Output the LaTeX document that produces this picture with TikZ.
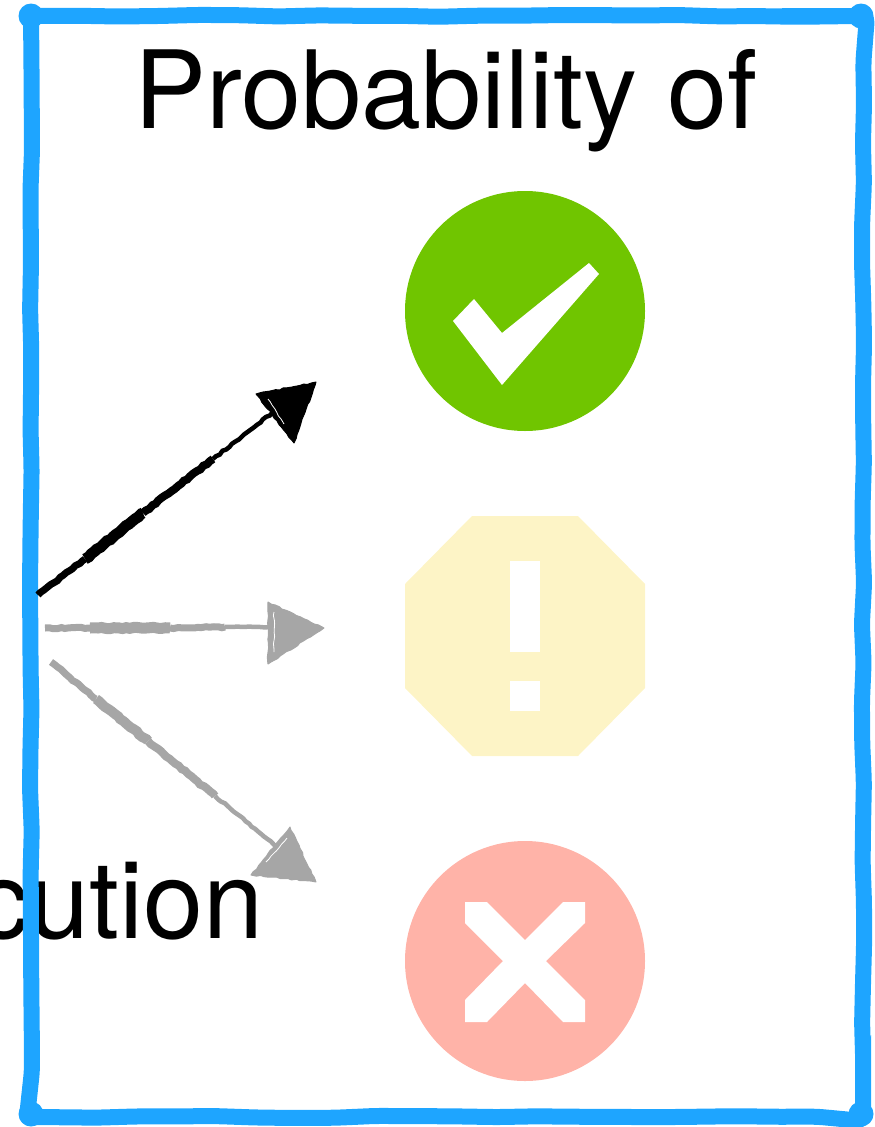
\documentclass[tikz,border=0pt]{standalone}
\usepackage{fontspec}
\setmainfont{TeX Gyre Heros}
\usetikzlibrary{decorations.pathmorphing}
\definecolor{framecol}{HTML}{1EA5FF}
\definecolor{okcol}{HTML}{70C500}
\definecolor{warncol}{HTML}{FDF4C6}
\definecolor{badcol}{HTML}{FFB3A8}
\definecolor{fadecol}{HTML}{A6A6A6}
\tikzset{
  bigtext/.style   = {font=\fontsize{108}{108}\selectfont, inner sep=0pt, text=black},
  iconcirc/.style  = {circle, minimum size=240pt, inner sep=0pt},
  iconmark/.style  = {fill=white, draw=none},
  framebox/.style  = {draw=framecol, line width=16pt, rounded corners=7pt,
                      decorate, decoration={random steps, segment length=40pt, amplitude=1.1pt}},
  framedot/.style  = {circle, fill=framecol, minimum size=25pt, inner sep=0pt},
  sketchy/.style   = {decorate, decoration={random steps, segment length=4pt, amplitude=0.7pt}},
  shaftline/.style = {sketchy, line width=#1},
  headfill/.style  = {sketchy, line width=1pt, line join=round},
  scratch/.style   = {sketchy, draw=white, line width=0.8pt},
}
\begin{document}
\begin{tikzpicture}[x=1pt, y=-1pt]
    \pgfmathsetseed{7}
    \useasboundingbox (0,0) rectangle (875,1127);
    \node[bigtext, anchor=base west] (title) at (134,128) {Probability of};
    \node[bigtext, anchor=base east] (word) at (264,938) {cution};

    % the three results
    \node[iconcirc, fill=okcol] (ok) at (525,311) {};
    \fill[iconmark] (453,321) -- (474,299) -- (502,333) -- (589,263) -- (599,274) -- (502,385) -- cycle;

    \fill[warncol] (472,516) -- (578,516) -- (645,584) -- (645,688) -- (578,756) -- (472,756)
        -- (405,688) -- (405,584) -- cycle;
    \fill[iconmark] (510,561) rectangle (540,652);
    \fill[iconmark] (510,681) rectangle (540,711);

    \node[iconcirc, fill=badcol] (bad) at (525,961) {};
    \fill[iconmark] (465,902) -- (487,902) -- (525,940) -- (563,902) -- (585,902) -- (585,923)
        -- (546,961) -- (585,1000) -- (585,1022) -- (563,1022) -- (525,983) -- (487,1022)
        -- (465,1022) -- (465,1000) -- (503,961) -- (465,923) -- cycle;

    % frame
    \draw[framebox] (31,16) -- (863,16) -- (863,1117) -- (31,1117) -- cycle;
    \node[framedot] (tl) at (31,16) {};
    \node[framedot] (tr) at (861,16) {};
    \node[framedot] (br) at (861,1114) {};
    \node[framedot] (bl) at (31,1114) {};

    % arrows
    \coordinate (a1s) at (38,595);
    \coordinate (a1b) at (85,559);
    \coordinate (a1m) at (143,513);
    \coordinate (a1c) at (213,459);
    \coordinate (a1e) at (272,413);
    \coordinate (a2s) at (45,628);
    \coordinate (a2b) at (90,628);
    \coordinate (a2m) at (170,628);
    \coordinate (a2c) at (225,627);
    \coordinate (a2e) at (270,627);
    \coordinate (a3s) at (51,662);
    \coordinate (a3b) at (96,699);
    \coordinate (a3m) at (148,741);
    \coordinate (a3c) at (215,796);
    \coordinate (a3e) at (276,846);

    \foreach \from/\to/\wd in {a1s/a1b/7pt, a1b/a1m/11pt, a1m/a1c/8pt, a1c/a1e/4.5pt}
        \draw[black, shaftline=\wd] (\from) -- (\to);
    \fill[black, draw=black, headfill] (256,394) -- (316,382) -- (294,443) -- cycle;
    \draw[scratch] (268,399) -- (284,424);

    \foreach \from/\to/\wd in {a2s/a2b/7pt, a2b/a2m/11pt, a2m/a2c/7pt, a2c/a2e/4.5pt}
        \draw[fadecol, shaftline=\wd] (\from) -- (\to);
    \fill[fadecol, draw=fadecol, headfill] (268,602) -- (324,628) -- (268,664) -- cycle;
    \draw[scratch] (274,612) -- (274,652);

    \foreach \from/\to/\wd in {a3s/a3b/7pt, a3b/a3m/10pt, a3m/a3c/8pt, a3c/a3e/4.5pt}
        \draw[fadecol, shaftline=\wd] (\from) -- (\to);
    \fill[fadecol, draw=fadecol, headfill] (290,827) -- (316,882) -- (251,875) -- cycle;
    \draw[scratch] (287,838) -- (266,862);
\end{tikzpicture}
\end{document}
